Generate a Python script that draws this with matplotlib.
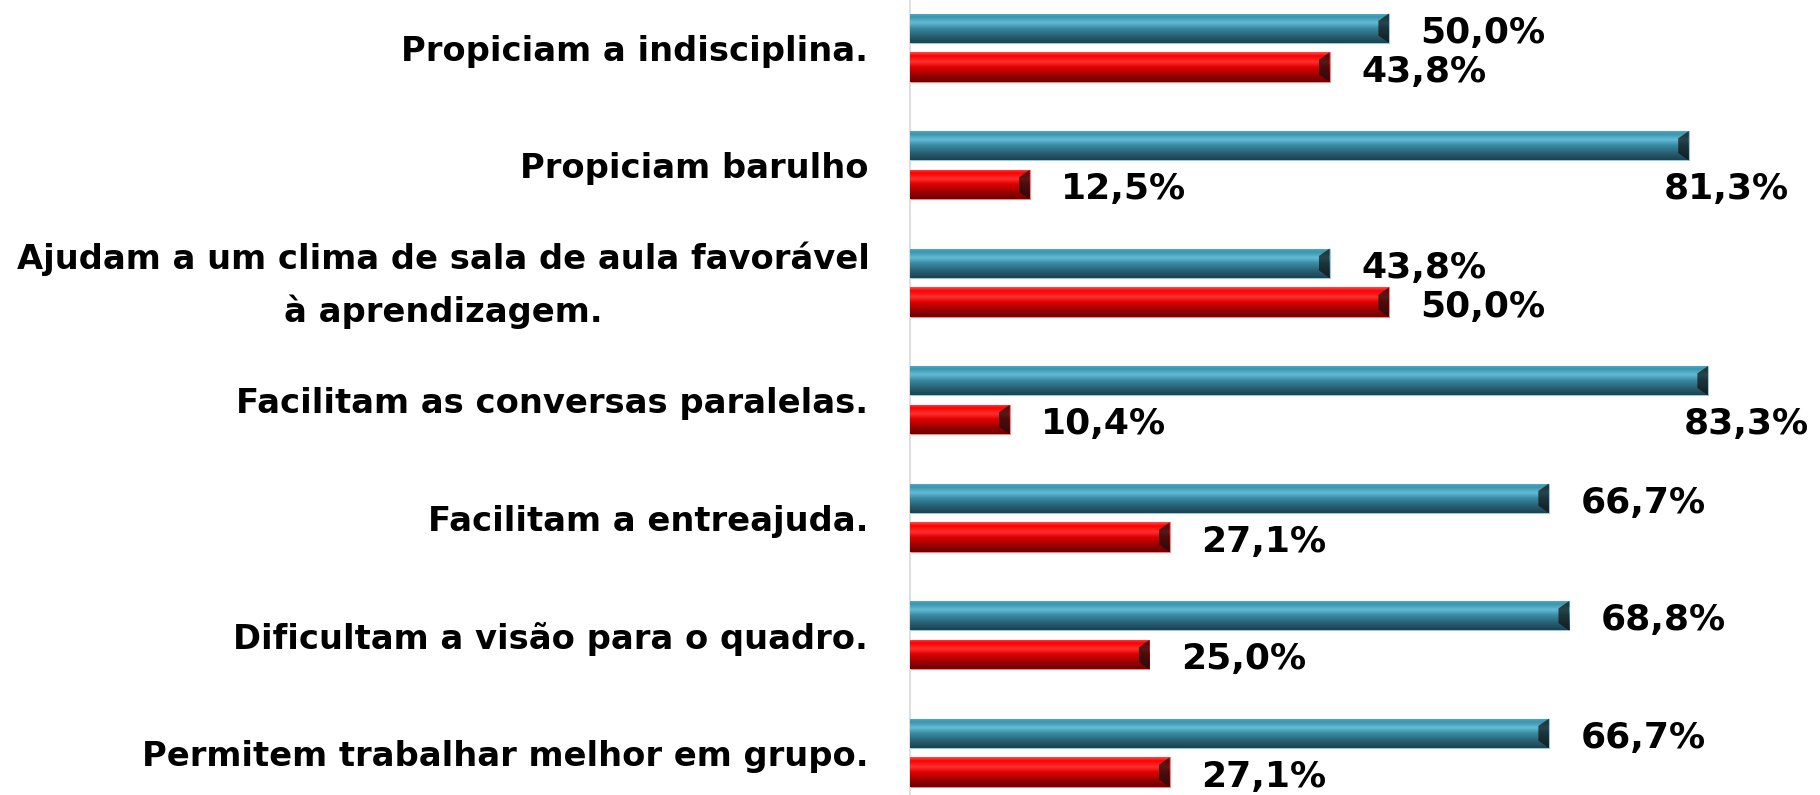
import numpy as np
import matplotlib
matplotlib.use("Agg")
import matplotlib.pyplot as plt
from matplotlib.colors import LinearSegmentedColormap

# data (top to bottom as in the picture)
categories = [
    "Propiciam a indisciplina.",
    "Propiciam barulho",
    "Ajudam a um clima de sala de aula favorável\nà aprendizagem.",
    "Facilitam as conversas paralelas.",
    "Facilitam a entreajuda.",
    "Dificultam a visão para o quadro.",
    "Permitem trabalhar melhor em grupo.",
]
blue_values = [50.0, 81.3, 43.8, 83.3, 66.7, 68.8, 66.7]
red_values = [43.8, 12.5, 50.0, 10.4, 27.1, 25.0, 27.1]

plt.rcParams['font.family'] = ['DejaVu Sans']

fig = plt.figure(figsize=(18.2, 7.95), dpi=100)
ax = fig.add_axes([0.5, 0, 0.5, 1])

y = np.arange(len(categories))
h = 0.25
off = 0.165

blue_bars = ax.barh(y - off, blue_values, height=h, color='#3B93AE',
                    edgecolor='#9cc9d8', linewidth=0.8, zorder=2)
red_bars = ax.barh(y + off, red_values, height=h, color='#FF0000',
                   edgecolor='#ff8080', linewidth=0.8, zorder=2)

# bevel-ish gradient fill
blue_cmap = LinearSegmentedColormap.from_list("b", [
    (0.0, '#56AECA'), (0.12, '#3C94AF'), (0.32, '#62BCD6'),
    (0.5, '#3A8BA4'), (0.75, '#2A6376'), (1.0, '#1B4250')])
red_cmap = LinearSegmentedColormap.from_list("r", [
    (0.0, '#FF4A4A'), (0.12, '#FF0000'), (0.32, '#FF3030'),
    (0.5, '#E00000'), (0.75, '#A00000'), (1.0, '#6A0000')])
grad = np.linspace(0, 1, 64).reshape(-1, 1)

for bars, cmap in [(blue_bars, blue_cmap), (red_bars, red_cmap)]:
    for p in bars:
        x0, y0 = p.get_x(), p.get_y()
        w, hh = p.get_width(), p.get_height()
        im = ax.imshow(grad, extent=[x0, x0 + w, y0 + hh, y0], aspect='auto',
                       cmap=cmap, origin='upper', zorder=3)
        im.set_clip_path(p)
        # dark end bevel
        ax.fill([x0 + w - 1.1, x0 + w, x0 + w, x0 + w - 1.1],
                [y0 + hh * 0.25, y0, y0 + hh, y0 + hh * 0.75],
                color='#101010', alpha=0.7, zorder=4, lw=0)

# value labels
for i in range(len(categories)):
    bv = blue_values[i]
    rv = red_values[i]
    if bv > 80:
        ax.text(bv + 10.5, y[i] + off + 0.04, f"{bv:.1f}%".replace('.', ','),
                ha='right', va='center', fontsize=26, fontweight='bold')
    else:
        ax.text(bv + 3.3, y[i] - off + 0.04, f"{bv:.1f}%".replace('.', ','),
                ha='left', va='center', fontsize=26, fontweight='bold')
    ax.text(rv + 3.3, y[i] + off + 0.04, f"{rv:.1f}%".replace('.', ','),
            ha='left', va='center', fontsize=26, fontweight='bold')

# category labels
for i, cat in enumerate(categories):
    if "\n" in cat:
        ax.annotate(cat, xy=(0, y[i]), xytext=(-29, 7), textcoords='offset points',
                    ha='right', va='center_baseline', multialignment='center',
                    fontsize=24.3, fontweight='bold', linespacing=1.65,
                    annotation_clip=False)
    else:
        ax.annotate(cat, xy=(0, y[i]), xytext=(-30, 0), textcoords='offset points',
                    ha='right', va='center_baseline',
                    fontsize=24.3, fontweight='bold', annotation_clip=False)

ax.set_xlim(0, 95)
ax.set_ylim(6.36, -0.405)
ax.set_yticks([])
ax.set_xticks([])
for s in ['top', 'right', 'bottom']:
    ax.spines[s].set_visible(False)
ax.spines['left'].set_color('#D9D9D9')
ax.spines['left'].set_linewidth(1.2)

fig.savefig("out.png", dpi=100)
